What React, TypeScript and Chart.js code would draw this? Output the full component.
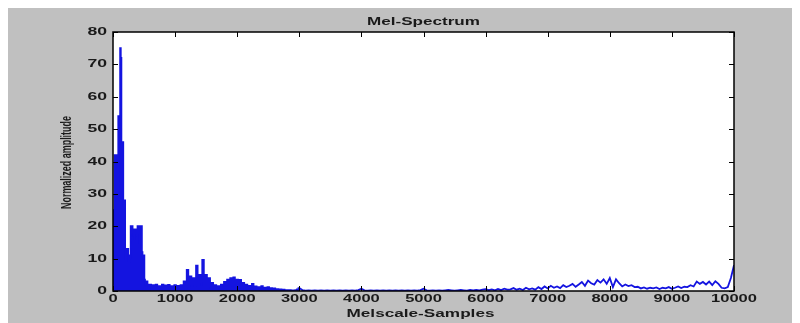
import React, { useEffect, useRef } from "react";
import { Chart, registerables } from "chart.js";

Chart.register(...registerables);

const TITLE = "Mel-Spectrum";
const X_LABEL = "Melscale-Samples";
const Y_LABEL = "Normalized amplitude";
const X_TICKS = [0, 1000, 2000, 3000, 4000, 5000, 6000, 7000, 8000, 9000, 10000];
const Y_TICKS = [0, 10, 20, 30, 40, 50, 60, 70, 80];

// samples 0..600, step 10
const LOW_START = 0;
const LOW_STEP = 10;
const LOW_VALUES = [
  25, 22, 25, 42, 38, 42, 40, 42, 30, 54,
  50, 54, 75, 72, 46, 44, 46, 28, 26, 28,
  13, 10, 13, 12, 13, 11, 9, 11, 10, 20,
  18, 20, 19, 17, 19, 16, 19, 18, 19, 17,
  20, 18, 20, 15, 20, 19, 20, 12, 11, 10,
  11, 3.5, 2, 3, 1.5, 3, 2, 1, 2, 1,
  2,
];

// samples 625..3000, step 25
const MID_START = 625;
const MID_STEP = 25;
const MID_VALUES = [
  0.5, 1.8, 0.6, 2, 0.4, 1.5, 0.8, 2,
  0.5, 1.7, 0.6, 1.9, 0.4, 1.5, 0.7, 1.8,
  0.5, 1.6, 0.6, 1.8, 0.8, 3, 1, 6.5,
  1.5, 4.5, 2, 4, 1.5, 7.8, 2, 5,
  3, 9.6, 2, 5, 1.5, 4, 1, 2.5,
  0.6, 1.8, 0.5, 1.5, 0.8, 2, 1, 2.8,
  1.2, 3.5, 1.5, 4, 1.8, 4.2, 1.5, 3.5,
  1.2, 3.4, 1, 2.5, 0.8, 2, 0.6, 1.6,
  0.5, 2.2, 0.5, 1.4, 0.4, 1.2, 0.5, 1.5,
  0.3, 1, 0.4, 1.2, 0.3, 0.9, 0.2, 0.8,
  0.3, 0.6, 0.2, 0.5, 0.2, 0.4, 0.1, 0.3,
  0.2, 0.3, 0.1, 0.2, 0.2, 0.3, 0.5, 0.9,
];

// samples 3050..10000, step 50
const HIGH_START = 3050;
const HIGH_STEP = 50;
const HIGH_VALUES = [
  0.3, 0.1, 0.2, 0.1, 0.2, 0.1, 0.2, 0.1, 0.2, 0.1,
  0.2, 0.1, 0.2, 0.1, 0.2, 0.1, 0.2, 0.1, 0.3, 0.7,
  0.2, 0.1, 0.2, 0.1, 0.2, 0.1, 0.2, 0.1, 0.2, 0.1,
  0.2, 0.1, 0.2, 0.1, 0.2, 0.1, 0.2, 0.1, 0.3, 0.7,
  0.2, 0.1, 0.2, 0.1, 0.2, 0.1, 0.2, 0.3, 0.2, 0.1,
  0.2, 0.3, 0.2, 0.1, 0.3, 0.2, 0.3, 0.2, 0.4, 0.6,
  0.3, 0.5, 0.2, 0.6, 0.3, 0.7, 0.4, 0.5, 0.9, 0.4,
  0.7, 0.3, 1.0, 0.5, 0.8, 0.4, 1.2, 0.6, 1.4, 0.8,
  1.6, 1.0, 1.4, 0.9, 1.8, 1.2, 1.6, 2.2, 1.3, 2.0,
  2.8, 1.6, 3.2, 2.4, 2.0, 3.4, 2.6, 3.6, 2.2, 4.0,
  1.2, 3.6, 2.4, 1.4, 2.0, 1.5, 1.8, 1.2, 1.3, 0.8,
  1.1, 0.7, 1.0, 0.8, 1.1, 0.6, 1.0, 0.8, 1.2, 0.7,
  1.0, 1.4, 0.9, 1.3, 1.2, 1.8, 1.4, 2.9, 2.2, 2.8,
  2.0, 2.9, 1.8, 3.0, 2.2, 1.0, 0.8, 1.2, 4.0, 8.0,
];

function toPoints(start: number, step: number, values: number[]) {
  return values.map((v, i) => ({ x: start + i * step, y: v }));
}

const TEXT_COLOR = "#1a1a1a";
const LINE_COLOR = "#1414e0";

function drawFit(
  ctx: CanvasRenderingContext2D,
  text: string,
  x: number,
  y: number,
  targetWidth: number,
  font: string,
  rotate = 0
) {
  ctx.save();
  ctx.font = font;
  const w = ctx.measureText(text).width;
  ctx.translate(x, y);
  if (rotate) ctx.rotate(rotate);
  ctx.scale(targetWidth / w, 1);
  ctx.textAlign = "center";
  ctx.textBaseline = "middle";
  ctx.fillStyle = TEXT_COLOR;
  ctx.fillText(text, 0, 0);
  ctx.restore();
}

function drawStretched(
  ctx: CanvasRenderingContext2D,
  text: string,
  x: number,
  y: number,
  sx: number,
  align: CanvasTextAlign
) {
  ctx.save();
  ctx.font = "bold 11px 'Liberation Sans', Arial, sans-serif";
  ctx.translate(x, y);
  ctx.scale(sx, 1);
  ctx.textAlign = align;
  ctx.textBaseline = "middle";
  ctx.fillStyle = TEXT_COLOR;
  ctx.fillText(text, 0, 0);
  ctx.restore();
}

const decorPlugin = {
  id: "matlabDecor",
  beforeDraw(chart: any) {
    const ctx: CanvasRenderingContext2D = chart.ctx;
    const a = chart.chartArea;
    ctx.save();
    ctx.fillStyle = "#c0c0c0";
    ctx.fillRect(0, 0, chart.width, chart.height);
    ctx.fillStyle = "#ffffff";
    ctx.fillRect(a.left, a.top, a.right - a.left, a.bottom - a.top);
    ctx.restore();
  },
  afterDraw(chart: any) {
    const ctx: CanvasRenderingContext2D = chart.ctx;
    const a = chart.chartArea;
    const xs = chart.scales.x;
    const ys = chart.scales.y;
    ctx.save();
    ctx.strokeStyle = "#000";
    ctx.lineWidth = 1.5;
    ctx.strokeRect(a.left, a.top, a.right - a.left, a.bottom - a.top);
    ctx.lineWidth = 1;
    const tl = 5;
    ctx.beginPath();
    for (const v of X_TICKS) {
      const px = Math.round(xs.getPixelForValue(v)) + 0.5;
      ctx.moveTo(px, a.bottom);
      ctx.lineTo(px, a.bottom - tl);
      ctx.moveTo(px, a.top);
      ctx.lineTo(px, a.top + tl);
    }
    for (const v of Y_TICKS) {
      const py = Math.round(ys.getPixelForValue(v)) + 0.5;
      ctx.moveTo(a.left, py);
      ctx.lineTo(a.left + tl, py);
      ctx.moveTo(a.right, py);
      ctx.lineTo(a.right - tl, py);
    }
    ctx.stroke();
    ctx.restore();

    for (const v of X_TICKS) {
      drawStretched(ctx, String(v), xs.getPixelForValue(v), a.bottom + 8, 1.5, "center");
    }
    for (const v of Y_TICKS) {
      drawStretched(ctx, String(v), a.left - 6, ys.getPixelForValue(v), 1.6, "right");
    }
    const font = "bold 11px 'Liberation Sans', Arial, sans-serif";
    drawFit(ctx, TITLE, (a.left + a.right) / 2, 14, 113, font);
    drawFit(ctx, X_LABEL, (a.left + a.right) / 2 - 3, 306, 148, font);
    drawFit(
      ctx,
      Y_LABEL,
      59,
      (a.top + a.bottom) / 2 + 1,
      93,
      "bold 14px 'Liberation Sans', Arial, sans-serif",
      -Math.PI / 2
    );
  },
};

export default function App() {
  const ref = useRef<HTMLCanvasElement | null>(null);
  useEffect(() => {
    if (!ref.current) return;
    const lowMid = [
      ...toPoints(LOW_START, LOW_STEP, LOW_VALUES),
      ...toPoints(MID_START, MID_STEP, MID_VALUES),
    ];
    const high = [lowMid[lowMid.length - 1], ...toPoints(HIGH_START, HIGH_STEP, HIGH_VALUES)];
    const chart = new Chart(ref.current, {
      type: "line",
      data: {
        datasets: [
          {
            data: lowMid,
            borderColor: LINE_COLOR,
            backgroundColor: LINE_COLOR,
            borderWidth: 1.8,
            pointRadius: 0,
            fill: "origin",
            tension: 0,
            stepped: "middle",
          },
          {
            data: high,
            borderColor: LINE_COLOR,
            borderWidth: 1.8,
            pointRadius: 0,
            fill: false,
            tension: 0,
          },
        ],
      },
      options: {
        responsive: false,
        animation: false,
        layout: { padding: { left: 0, right: 66, top: 24, bottom: 0 } },
        plugins: { legend: { display: false }, tooltip: { enabled: false } },
        scales: {
          x: {
            type: "linear",
            min: 0,
            max: 10000,
            ticks: { display: false },
            grid: { display: false },
            border: { display: false },
            afterFit: (s: any) => {
              s.height = 32;
            },
          },
          y: {
            min: 0,
            max: 80,
            ticks: { display: false },
            grid: { display: false },
            border: { display: false },
            afterFit: (s: any) => {
              s.width = 105;
            },
          },
        },
      },
      plugins: [decorPlugin],
    });
    return () => chart.destroy();
  }, []);
  return (
    <div style={{ width: 792, height: 315, background: "#c0c0c0" }}>
      <canvas ref={ref} width={792} height={315} style={{ display: "block" }} />
    </div>
  );
}
